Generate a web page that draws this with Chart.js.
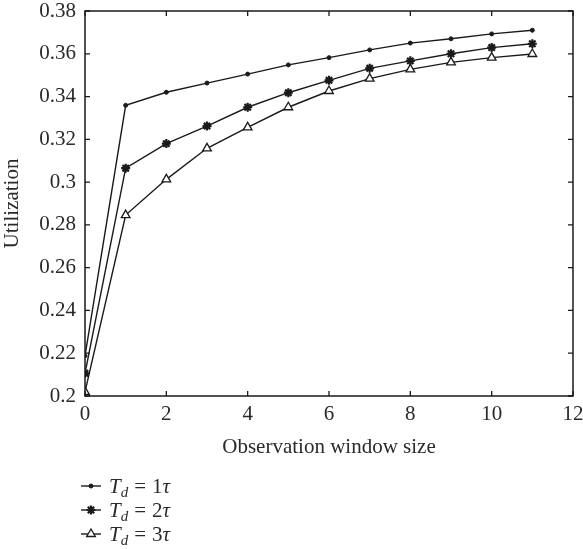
<!DOCTYPE html>
<html>
<head>
<meta charset="utf-8">
<script src="https://cdn.jsdelivr.net/npm/chart.js@4/dist/chart.umd.min.js"></script>
<style>
html,body{margin:0;padding:0;background:#fff;}
#wrap{width:583px;height:549px;position:relative;}
</style>
</head>
<body>
<div id="wrap"><canvas id="c" width="583" height="549"></canvas></div>
<script>
const windowSizes = [0, 1, 2, 3, 4, 5, 6, 7, 8, 9, 10, 11];
const td1 = [0.2188, 0.3359, 0.3420, 0.3463, 0.3505, 0.3548, 0.3582, 0.3618, 0.3650, 0.3670, 0.3693, 0.3710];
const td2 = [0.2106, 0.3065, 0.3180, 0.3262, 0.3350, 0.3418, 0.3476, 0.3532, 0.3567, 0.3600, 0.3629, 0.3647];
const td3 = [0.2019, 0.2846, 0.3013, 0.3158, 0.3256, 0.3350, 0.3426, 0.3484, 0.3527, 0.3560, 0.3582, 0.3599];
const xTicks = [0, 2, 4, 6, 8, 10, 12];
const yTicks = [0.2, 0.22, 0.24, 0.26, 0.28, 0.3, 0.32, 0.34, 0.36, 0.38];
const seriesNames = ['1', '2', '3'];

const FONT = '"Liberation Serif", "Times New Roman", serif';
const INK = '#1a1a1a';
const TXT = '#2a2a2a';
const FS = 21;

function pts(arr){ return windowSizes.map((x,i)=>({x:x, y:arr[i]})); }

const styles = [
  {pointStyle:'circle', radius:2, bg:INK, bw:1},
  {pointStyle:'star', radius:4.5, bg:INK, bw:2.2},
  {pointStyle:'triangle', radius:5, bg:'#fff', bw:1.3}
];

const datasets = [td1, td2, td3].map((arr,i)=>({
  label: 'T_d = ' + seriesNames[i] + 'τ',
  data: pts(arr),
  borderColor: INK,
  borderWidth: 1.4,
  backgroundColor: styles[i].bg,
  pointStyle: styles[i].pointStyle,
  pointRadius: styles[i].radius,
  pointBorderWidth: styles[i].bw,
  pointBorderColor: INK,
  pointBackgroundColor: styles[i].bg,
  tension: 0,
  fill: false
}));

const framePlugin = {
  id: 'frame',
  afterDraw(chart){
    const ctx = chart.ctx, a = chart.chartArea;
    const xs = chart.scales.x, ys = chart.scales.y;
    ctx.save();
    ctx.strokeStyle = INK;
    ctx.lineWidth = 1.5;
    ctx.strokeRect(a.left, a.top, a.right - a.left, a.bottom - a.top);
    ctx.lineWidth = 1.3;
    const tl = 5;
    ctx.beginPath();
    xTicks.forEach(v=>{
      const px = xs.getPixelForValue(v);
      ctx.moveTo(px, a.bottom); ctx.lineTo(px, a.bottom - tl);
      ctx.moveTo(px, a.top); ctx.lineTo(px, a.top + tl);
    });
    yTicks.forEach(v=>{
      const py = ys.getPixelForValue(v);
      ctx.moveTo(a.left, py); ctx.lineTo(a.left + tl, py);
      ctx.moveTo(a.right, py); ctx.lineTo(a.right - tl, py);
    });
    ctx.stroke();

    // legend
    const rowY = [486, 510, 534];
    chart.data.datasets.forEach((ds, i)=>{
      const y = rowY[i];
      ctx.strokeStyle = INK;
      ctx.lineWidth = 1.4;
      ctx.beginPath(); ctx.moveTo(81, y); ctx.lineTo(101, y); ctx.stroke();
      ctx.fillStyle = ds.pointBackgroundColor;
      ctx.strokeStyle = INK;
      ctx.lineWidth = ds.pointBorderWidth;
      Chart.helpers.drawPoint(ctx, {
        pointStyle: ds.pointStyle, radius: ds.pointRadius, borderWidth: ds.pointBorderWidth, rotation: 0
      }, 91, y);
      ctx.fillStyle = TXT;
      ctx.textBaseline = 'alphabetic';
      ctx.textAlign = 'left';
      let x = 109; const base = y + 7;
      ctx.font = 'italic ' + FS + 'px ' + FONT;
      ctx.fillText('T', x, base); x += ctx.measureText('T').width;
      ctx.font = 'italic 15px ' + FONT;
      ctx.fillText('d', x, base + 4); x += ctx.measureText('d').width + 6;
      ctx.font = FS + 'px ' + FONT;
      ctx.fillText('=', x, base); x += ctx.measureText('=').width + 6;
      ctx.fillText(seriesNames[i], x, base); x += ctx.measureText(seriesNames[i]).width;
      ctx.font = 'italic ' + FS + 'px ' + FONT;
      ctx.fillText('τ', x, base);
    });
    ctx.restore();
  }
};

new Chart(document.getElementById('c'), {
  type: 'line',
  data: { datasets },
  options: {
    responsive: false,
    animation: false,
    devicePixelRatio: 1,
    layout: { padding: { top: 11, right: 10, bottom: 89, left: 0 } },
    plugins: { legend: { display: false }, tooltip: { enabled: false } },
    scales: {
      x: {
        type: 'linear', min: 0, max: 12,
        afterBuildTicks(s){ s.ticks = xTicks.map(v=>({value:v})); },
        afterFit(s){ s.height = 64; s.paddingLeft = 0; s.paddingRight = 0; },
        grid: { display: false, drawTicks: false },
        border: { display: false },
        ticks: { color: TXT, font: { family: FONT, size: FS }, padding: 6, maxRotation: 0 },
        title: { display: true, text: 'Observation window size', color: TXT,
                 font: { family: FONT, size: FS }, padding: { top: 4, bottom: 0 } }
      },
      y: {
        type: 'linear', min: 0.2, max: 0.38,
        afterBuildTicks(s){ s.ticks = yTicks.map(v=>({value:v})); },
        afterFit(s){ s.width = 85; s.paddingTop = 0; s.paddingBottom = 0; },
        grid: { display: false, drawTicks: false },
        border: { display: false },
        ticks: { color: TXT, font: { family: FONT, size: FS }, padding: 9,
                 callback: (v)=> String(Math.round(v*100)/100) },
        title: { display: true, text: 'Utilization', color: TXT,
                 font: { family: FONT, size: FS }, padding: { top: 0, bottom: 0 } }
      }
    }
  },
  plugins: [framePlugin]
});
</script>
</body>
</html>
